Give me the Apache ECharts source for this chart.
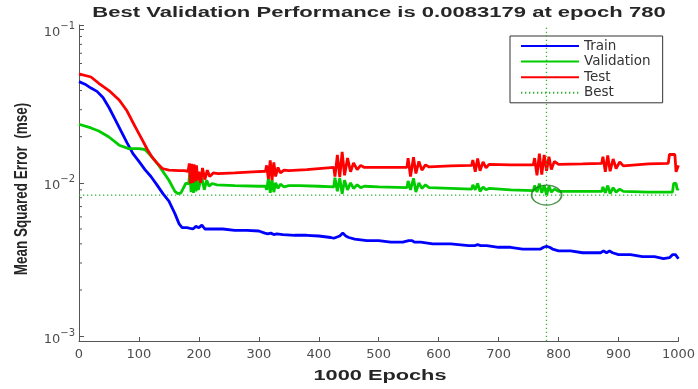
<!DOCTYPE html>
<html>
<head>
<meta charset="utf-8">
<script src="https://cdn.jsdelivr.net/npm/echarts@6/dist/echarts.min.js"></script>
<style>
html,body{margin:0;padding:0;background:#fff;}
#chart{width:698px;height:389px;}
</style>
</head>
<body>
<div id="chart"></div>
<script>
const titleText = 'Best Validation Performance is 0.0083179 at epoch 780';
const xAxisTitle = '1000 Epochs';
const yAxisTitle = 'Mean Squared Error  (mse)';
const xTickValues = [0, 100, 200, 300, 400, 500, 600, 700, 800, 900, 1000];
const yMajorTicks = [0.001, 0.01, 0.1];
const minorTickValues = [0.002,0.003,0.004,0.005,0.006,0.007,0.008,0.009,0.02,0.03,0.04,0.05,0.06,0.07,0.08,0.09];
const legendNames = ['Train', 'Validation', 'Test', 'Best'];
const bestEpoch = 780;
const bestPerf = 0.0083179;

const trainEpochs = [0,10,20,30,40,50,60,70,80,90,100,110,120,130,140,150,160,167,172,180,190,195,200,205,210,220,240,260,280,300,310,315,320,325,330,340,360,380,400,420,425,435,440,445,450,460,480,500,520,540,550,555,560,570,590,620,650,660,665,670,680,700,720,740,760,770,775,780,785,790,800,820,840,860,870,875,880,885,890,900,920,940,960,975,985,990,995,1000];
const trainMse = [0.0457,0.0440,0.0415,0.0395,0.0360,0.0310,0.0260,0.0218,0.0183,0.0155,0.0138,0.0122,0.0110,0.0097,0.0085,0.0076,0.0063,0.0054,0.0051,0.0051,0.0050,0.0052,0.0051,0.0053,0.0050,0.0050,0.0050,0.0049,0.0049,0.00485,0.0047,0.00465,0.0047,0.0046,0.00465,0.0046,0.00455,0.00455,0.0045,0.0044,0.00435,0.0045,0.0047,0.0045,0.0044,0.0043,0.0042,0.0042,0.0041,0.0041,0.0042,0.0042,0.0041,0.0041,0.0040,0.0040,0.0039,0.0039,0.00395,0.0039,0.0039,0.0038,0.0038,0.0037,0.0037,0.0037,0.0038,0.00385,0.0038,0.0037,0.0036,0.0036,0.0035,0.0035,0.0035,0.0036,0.0035,0.0036,0.0035,0.0034,0.0034,0.0033,0.0033,0.0032,0.00325,0.0034,0.0034,0.0032];

const valEpochs = [0,20,33,50,67,83,100,110,120,133,150,160,165,170,178,183,185,187,189,191,193,195,197,199,202,205,209,213,217,222,230,260,300,311,313,316,319,322,325,328,332,336,342,350,367,400,425,427,431,435,439,443,448,453,458,464,470,476,500,547,549,553,558,562,567,572,578,584,620,655,657,661,665,669,674,679,684,720,758,760,764,768,772,776,780,784,788,793,800,840,872,874,878,882,886,891,896,902,908,950,990,992,996,998,1000];
const valMse = [0.0241,0.0228,0.0218,0.0199,0.0176,0.0167,0.0167,0.0165,0.0150,0.0130,0.0104,0.0088,0.0085,0.0086,0.0099,0.0099,0.0117,0.0087,0.0115,0.0086,0.0112,0.0088,0.0110,0.0090,0.0100,0.0108,0.0090,0.0104,0.0095,0.0099,0.0097,0.0096,0.0095,0.0095,0.0090,0.0107,0.0086,0.0105,0.0087,0.0100,0.0092,0.0098,0.0094,0.0096,0.0096,0.0095,0.0094,0.0108,0.0088,0.0107,0.0085,0.0104,0.0090,0.0100,0.0092,0.0097,0.0093,0.0095,0.0094,0.0093,0.0103,0.0090,0.0107,0.0087,0.0100,0.0092,0.0097,0.0093,0.0092,0.0091,0.0097,0.0090,0.0099,0.0088,0.0094,0.0090,0.0092,0.0090,0.0089,0.0096,0.0087,0.0099,0.0086,0.0096,0.0083179,0.0095,0.0087,0.0091,0.0088,0.0088,0.0088,0.0094,0.0086,0.0096,0.0085,0.0093,0.0087,0.0091,0.0088,0.0087,0.0087,0.0099,0.0099,0.0090,0.0092];

const testEpochs = [0,20,33,50,67,80,88,97,106,114,122,130,139,150,167,175,182,184,186,188,190,192,194,196,198,200,203,206,210,214,218,224,232,260,290,311,313,316,319,322,325,328,332,336,342,350,380,425,427,431,435,439,443,448,453,458,464,470,476,510,547,549,553,558,562,567,572,578,584,620,655,657,661,665,669,674,679,684,720,758,760,764,768,772,776,780,784,788,793,800,840,872,874,878,882,886,891,896,902,908,950,983,985,994,996,1000];
const testMse = [0.0513,0.0490,0.0446,0.0400,0.0347,0.0295,0.0256,0.0220,0.0189,0.0165,0.0147,0.0135,0.0124,0.0121,0.0120,0.0120,0.0119,0.0134,0.0099,0.0133,0.0100,0.0132,0.0102,0.0130,0.0104,0.0118,0.0100,0.0125,0.0105,0.0121,0.0110,0.0116,0.0115,0.0116,0.0118,0.0119,0.0130,0.0106,0.0140,0.0104,0.0136,0.0110,0.0126,0.0116,0.0121,0.0120,0.0122,0.0126,0.0110,0.0152,0.0109,0.0159,0.0112,0.0145,0.0118,0.0135,0.0122,0.0130,0.0126,0.0126,0.0126,0.0145,0.0110,0.0147,0.0115,0.0138,0.0121,0.0131,0.0127,0.0129,0.0130,0.0141,0.0118,0.0144,0.0120,0.0137,0.0125,0.0132,0.0131,0.0131,0.0145,0.0112,0.0155,0.0113,0.0152,0.0120,0.0148,0.0122,0.0138,0.0132,0.0133,0.0134,0.0148,0.0118,0.0151,0.0119,0.0143,0.0124,0.0137,0.0129,0.0133,0.0134,0.0153,0.0153,0.0118,0.0130];

const zip = (xs, ys) => xs.map((x, i) => [x, ys[i]]);
const FONT = '"Liberation Sans", Arial, sans-serif';
const WIDE = '"DejaVu Sans", sans-serif';
const AX = '#4d4d4d';
const BEST = '#2fb52f';
const BEST_DASH = [1.3, 2.7];
const xMin = xTickValues[0], xMax = xTickValues[xTickValues.length - 1];

const chart = echarts.init(document.getElementById('chart'), null, {renderer: 'canvas'});
chart.setOption({
  animation: false,
  backgroundColor: '#fff',
  graphic: [
    {type: 'text', x: 379, y: 13, scaleX: 1.52, silent: true,
     style: {text: titleText, fontFamily: FONT, fontSize: 14.5, fontWeight: 'bold', fill: '#262626', align: 'center', verticalAlign: 'middle'}},
    {type: 'text', x: 380, y: 376, scaleX: 1.45, silent: true,
     style: {text: xAxisTitle, fontFamily: FONT, fontSize: 15, fontWeight: 'bold', fill: '#262626', align: 'center', verticalAlign: 'middle'}},
    {type: 'text', x: 22, y: 189, rotation: Math.PI / 2, scaleY: 1.3, silent: true,
     style: {text: yAxisTitle, fontFamily: FONT, fontSize: 13.5, fontWeight: 'bold', fill: '#262626', align: 'center', verticalAlign: 'middle'}}
  ],
  grid: {left: 79, right: 18, top: 25, bottom: 48},
  legend: {
    orient: 'vertical', left: 510, top: 36,
    data: legendNames,
    itemWidth: 58, itemHeight: 14, itemGap: 1.6,
    padding: [3, 12, 3, 10],
    borderColor: '#333', borderWidth: 1, backgroundColor: '#fff',
    itemStyle: {opacity: 0},
    textStyle: {fontFamily: WIDE, fontSize: 13.5, color: '#333'}
  },
  xAxis: {
    type: 'value', min: xMin, max: xMax, interval: 100,
    axisLine: {show: true, lineStyle: {color: '#555', width: 1}},
    axisTick: {show: true, inside: true, length: 4, lineStyle: {color: '#555'}},
    axisLabel: {margin: 7, fontFamily: WIDE, fontSize: 13, color: AX, formatter: v => String(v)},
    splitLine: {show: false}
  },
  yAxis: {
    type: 'log', logBase: 10, min: 0.00093, max: 0.107,
    axisLine: {show: true, lineStyle: {color: '#555', width: 1}},
    axisTick: {show: true, inside: true, length: 5, lineStyle: {color: '#555'}},
    axisLabel: {
      margin: 4, color: AX,
      formatter: function (v) {
        const l = Math.log10(v), e = Math.round(l);
        if (Math.abs(l - e) > 1e-6) return '';
        return '{b|10}{s|' + (e < 0 ? '\u2212' + (-e) : e) + '}';
      },
      rich: {
        b: {fontFamily: WIDE, fontSize: 13, color: AX, padding: [6, 0, 0, 0]},
        s: {fontFamily: WIDE, fontSize: 10, color: AX, padding: [0, 0, 6, 0]}
      }
    },
    splitLine: {show: false}
  },
  series: [
    {
      name: 'minorTicks', type: 'custom', silent: true, clip: false,
      data: minorTickValues.map(v => [xMin, v]),
      renderItem: function (params, api) {
        const p = api.coord([api.value(0), api.value(1)]);
        return {type: 'line', shape: {x1: p[0], y1: p[1], x2: p[0] + 3, y2: p[1]}, style: {stroke: '#555', lineWidth: 1}};
      }
    },
    {
      name: 'bestHorizontal', type: 'line', data: [[xMin, bestPerf], [xMax, bestPerf]], symbol: 'none', silent: true,
      lineStyle: {color: BEST, width: 1.3, type: BEST_DASH}, z: 1
    },
    {name: 'Train', type: 'line', data: zip(trainEpochs, trainMse), symbol: 'none', lineStyle: {color: '#0000ff', width: 2.8}, itemStyle: {color: '#0000ff'}},
    {name: 'Validation', type: 'line', data: zip(valEpochs, valMse), symbol: 'none', lineStyle: {color: '#00cc00', width: 2.8}, itemStyle: {color: '#00cc00'}},
    {name: 'Test', type: 'line', data: zip(testEpochs, testMse), symbol: 'none', lineStyle: {color: '#ff0000', width: 2.8}, itemStyle: {color: '#ff0000'}},
    {
      name: 'Best', type: 'line', data: [], symbol: 'none',
      lineStyle: {color: BEST, width: 1.3, type: BEST_DASH}, itemStyle: {color: BEST},
      markLine: {
        silent: true, symbol: 'none', label: {show: false},
        lineStyle: {color: BEST, width: 1.3, type: BEST_DASH},
        emphasis: {disabled: true},
        data: [{xAxis: bestEpoch}]
      }
    },
    {
      name: 'bestCircle', type: 'scatter', data: [[bestEpoch, bestPerf]],
      symbol: 'circle', symbolSize: [30, 20], silent: true, z: 5,
      itemStyle: {color: 'rgba(0,0,0,0)', borderColor: '#1e7a1e', borderWidth: 1.5}
    }
  ]
});
</script>
</body>
</html>
